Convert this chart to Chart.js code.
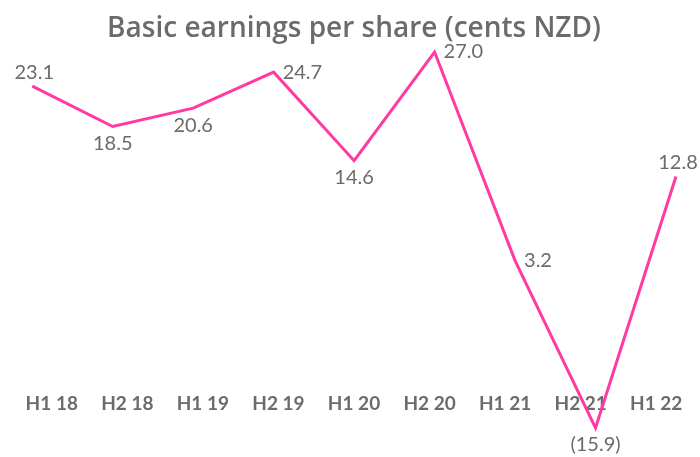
<!DOCTYPE html>
<html>
<head>
<meta charset="utf-8">
<script src="https://cdn.jsdelivr.net/npm/chart.js@4"></script>
<style>
  html, body { margin: 0; padding: 0; background: #fff; }
  #wrap { width: 700px; height: 457px; }
</style>
</head>
<body>
<div id="wrap"><canvas id="epsChart"></canvas></div>
<script>
// data
const periods = ['H1 18', 'H2 18', 'H1 19', 'H2 19', 'H1 20', 'H2 20', 'H1 21', 'H2 21', 'H1 22'];
const eps = [23.1, 18.5, 20.6, 24.7, 14.6, 27.0, 3.2, -15.9, 12.8];
const epsLabels = ['23.1', '18.5', '20.6', '24.7', '14.6', '27.0', '3.2', '(15.9)', '12.8'];
// where each value label sits relative to its point
const labelSide = ['above', 'below', 'below', 'right', 'below', 'right', 'right', 'below', 'above'];

const grey = '#6b6b6b';
const pink = '#ff3aa3';

// simple value-label plugin (no datalabels plugin available offline)
const valueLabels = {
    id: 'valueLabels',
    afterDatasetsDraw(chart) {
        const ctx = chart.ctx;
        const meta = chart.getDatasetMeta(0);
        ctx.save();
        ctx.font = '20px Lato';
        ctx.fillStyle = grey;
        ctx.textBaseline = 'middle';
        meta.data.forEach((pt, i) => {
            const side = labelSide[i];
            let x = pt.x, y = pt.y;
            if (side === 'above') {
                ctx.textAlign = 'center';
                x += 2;
                y -= 14;
            } else if (side === 'below') {
                ctx.textAlign = 'center';
                y += 17;
            } else {
                ctx.textAlign = 'left';
                x += 9;
            }
            ctx.fillText(epsLabels[i], x, y);
        });
        ctx.restore();
    }
};

const ctx = document.getElementById('epsChart').getContext('2d');
new Chart(ctx, {
    type: 'line',
    data: {
        labels: periods,
        datasets: [{
            data: eps.map((v, i) => ({ x: i, y: v })),
            xAxisID: 'x',
            yAxisID: 'y',
            borderColor: pink,
            borderWidth: 3,
            pointRadius: 0,
            tension: 0,
            clip: false
        }]
    },
    options: {
        responsive: true,
        maintainAspectRatio: false,
        animation: false,
        layout: { padding: { top: 0, left: 14, right: 6, bottom: 29 } },
        plugins: {
            legend: { display: false },
            tooltip: { enabled: false },
            title: {
                display: true,
                text: 'Basic earnings per share (cents NZD)',
                color: grey,
                font: { family: 'Open Sans', size: 28, weight: '600' },
                padding: { top: 12.5, bottom: 5.9 }
            }
        },
        scales: {
            x: {
                type: 'linear',
                display: false,
                min: -0.227,
                max: 8.224
            },
            xl: {
                type: 'category',
                labels: periods,
                offset: true,
                position: { y: -11.8 },
                grid: { display: false, drawTicks: false },
                border: { display: false },
                ticks: {
                    color: grey,
                    padding: 0,
                    maxRotation: 0,
                    autoSkip: false,
                    font: { family: 'Lato', size: 19, weight: 'bold' }
                }
            },
            y: {
                display: false,
                min: -15.9,
                max: 27.0
            }
        }
    },
    plugins: [valueLabels]
});
</script>
</body>
</html>
